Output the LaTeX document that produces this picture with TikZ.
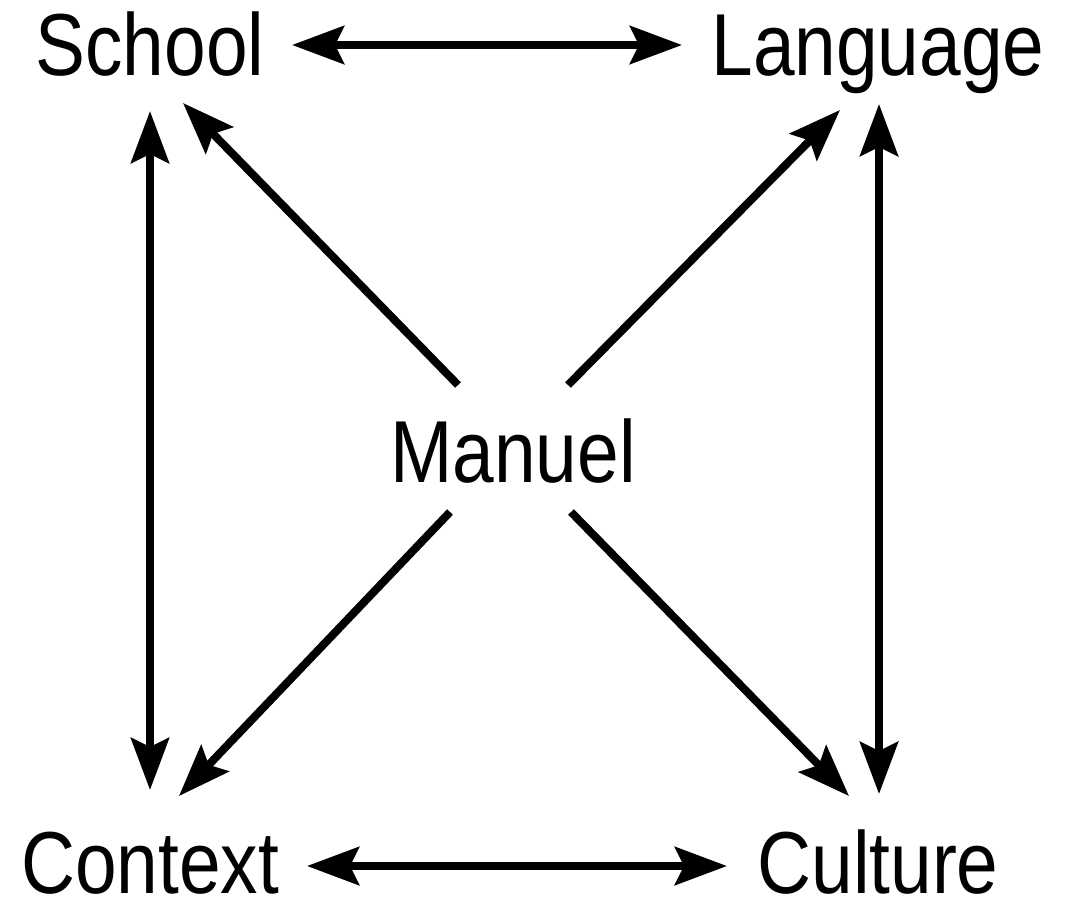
\documentclass[tikz,border=0pt]{standalone}
\usepackage{fontspec}
\setmainfont{Liberation Sans}[FakeStretch=0.85]
\usetikzlibrary{arrows.meta}
\begin{document}
\begin{tikzpicture}[x=1pt,y=-1pt,
  lbl/.style={inner sep=0pt,anchor=base,font=\fontsize{88}{90}\selectfont},
  conn/.style={line width=8pt,-{Stealth[length=52pt,width=38pt,inset=9pt]}},
  dconn/.style={line width=8pt,{Stealth[length=52pt,width=38pt,inset=9pt]}-{Stealth[length=52pt,width=38pt,inset=9pt]}}]
\useasboundingbox (0,0) rectangle (1066,900);
\node[lbl] (School) at (150,75) {School};
\node[lbl] (Language) at (878,75) {Language};
\node[lbl] (Manuel) at (513,482) {Manuel};
\node[lbl] (Context) at (150,893) {Context};
\node[lbl] (Culture) at (878,893) {Culture};
% arrow end points attached to the labels
\coordinate (sE) at (292,45);
\coordinate (lW) at (682,45);
\coordinate (cE) at (307,866);
\coordinate (uW) at (727,866);
\coordinate (sS) at (150,111);
\coordinate (cN) at (150,790);
\coordinate (lS) at (879,104);
\coordinate (uN) at (879,794);
\coordinate (sD) at (183,103);
\coordinate (lD) at (840,110);
\coordinate (cD) at (179,796);
\coordinate (uD) at (849,796);
\coordinate (mNW) at (458,385);
\coordinate (mNE) at (568,385);
\coordinate (mSW) at (450,512);
\coordinate (mSE) at (571,512);
\draw[dconn] (sE) -- (lW);
\draw[dconn] (cE) -- (uW);
\draw[dconn] (sS) -- (cN);
\draw[dconn] (lS) -- (uN);
\draw[conn] (mNW) -- (sD);
\draw[conn] (mNE) -- (lD);
\draw[conn] (mSW) -- (cD);
\draw[conn] (mSE) -- (uD);
\end{tikzpicture}
\end{document}
